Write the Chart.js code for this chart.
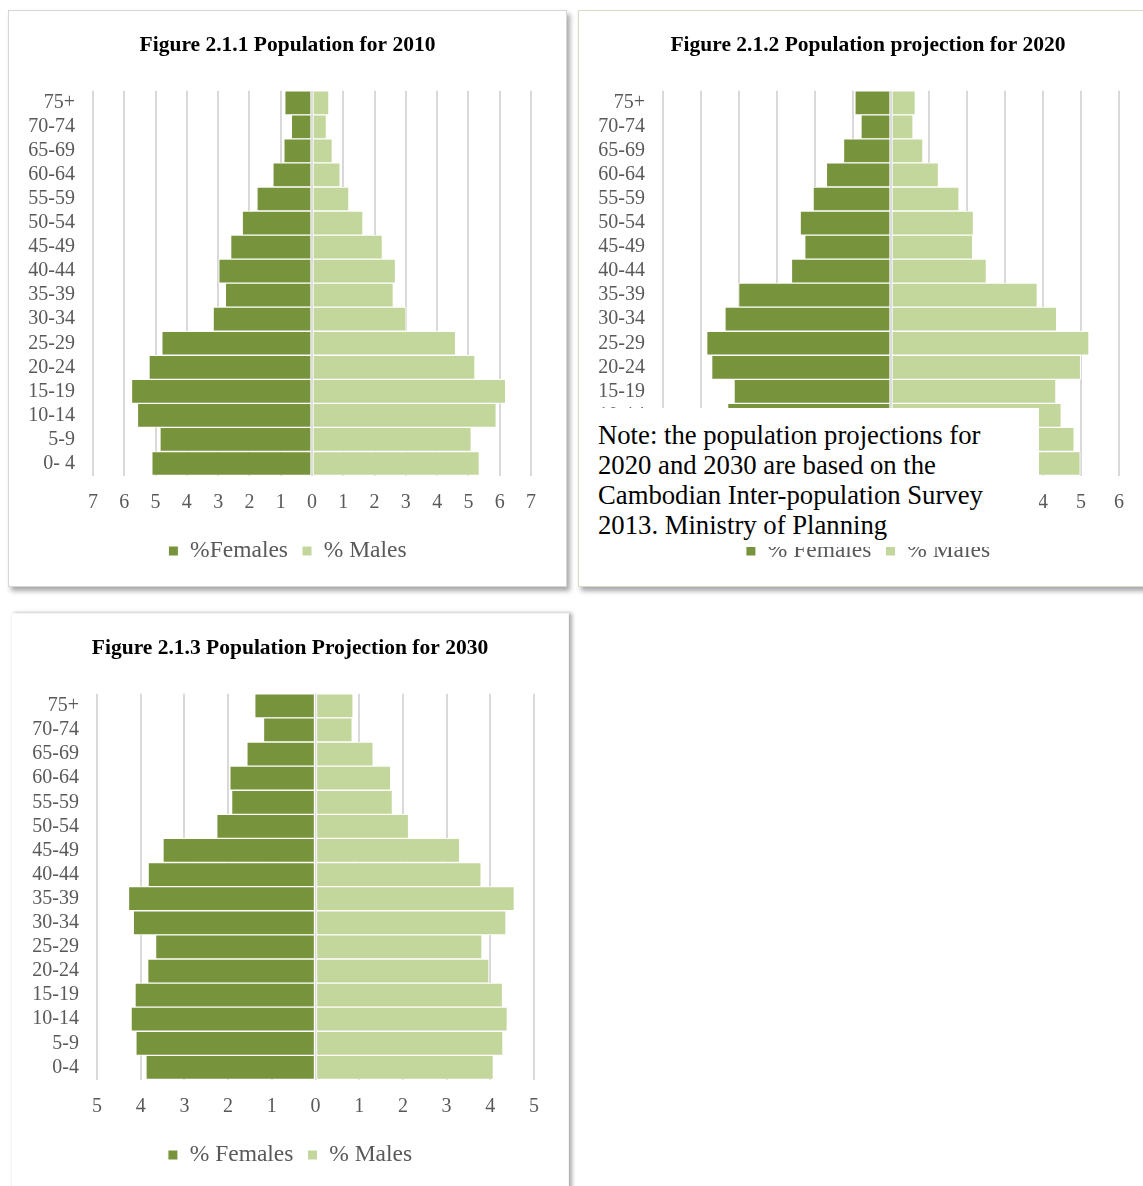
<!DOCTYPE html>
<html>
<head>
<meta charset="utf-8">
<script src="https://cdn.jsdelivr.net/npm/chart.js@4.4.1/dist/chart.umd.min.js"></script>
<style>
  html, body { margin: 0; padding: 0; background: #ffffff; }
  body { width: 1143px; height: 1186px; position: relative; overflow: hidden; }
  .panel { position: absolute; background: #ffffff; box-sizing: content-box; }
  .panel canvas { position: absolute; left: 0; top: 0; }
  #p1 { left: 8px; top: 10px; width: 557px; height: 575px; border: 1px solid #d6d6d6;
        box-shadow: 3px 4px 5px rgba(0,0,0,0.35); }
  #p2 { left: 578px; top: 10px; width: 578px; height: 575px; border: 1px solid #dcdac6;
        box-shadow: 3px 4px 5px rgba(0,0,0,0.35); }
  #p3 { left: 11px; top: 613px; width: 556px; height: 600px; border: 1px solid #f5f5f5;
        box-shadow: 3px 0px 4px rgba(0,0,0,0.33); }
  #note { position: absolute; left: 580px; top: 408px; width: 459px; height: 139px;
          background: #ffffff; z-index: 5; box-sizing: border-box; padding: 12px 0 0 18px;
          font-family: "Liberation Serif", "Times New Roman", serif; font-size: 26.7px;
          line-height: 30px; color: #000000; white-space: nowrap; }
</style>
</head>
<body>
<div class="panel" id="p1"><canvas id="c1" width="557" height="575"></canvas></div>
<div class="panel" id="p2"><canvas id="c2" width="578" height="575"></canvas></div>
<div class="panel" id="p3"><canvas id="c3" width="556" height="600"></canvas></div>
<div id="note">Note: the population projections for<br>2020 and 2030 are based on the<br>Cambodian Inter-population Survey<br>2013. Ministry of Planning</div>

<script>
// Age groups, oldest at the top of each pyramid
const ageGroups2010 = ['75+','70-74','65-69','60-64','55-59','50-54','45-49','40-44','35-39','30-34','25-29','20-24','15-19','10-14','5-9','0- 4'];
const ageGroups2020 = ['75+','70-74','65-69','60-64','55-59','50-54','45-49','40-44','35-39','30-34','25-29','20-24','15-19','10-14','5-9','0-4'];
const ageGroups2030 = ['75+','70-74','65-69','60-64','55-59','50-54','45-49','40-44','35-39','30-34','25-29','20-24','15-19','10-14','5-9','0-4'];

// Share of the population (%) in each age group
const females2010 = [0.87, 0.66, 0.90, 1.25, 1.76, 2.23, 2.60, 2.98, 2.77, 3.16, 4.80, 5.21, 5.77, 5.58, 4.86, 5.12];
const males2010   = [0.54, 0.46, 0.65, 0.90, 1.18, 1.63, 2.25, 2.67, 2.60, 3.01, 4.59, 5.21, 6.19, 5.89, 5.09, 5.35];

const females2020 = [0.95, 0.79, 1.25, 1.70, 2.05, 2.39, 2.27, 2.62, 4.01, 4.37, 4.85, 4.72, 4.13, 4.30, 4.60, 4.75];
const males2020   = [0.64, 0.58, 0.84, 1.25, 1.79, 2.17, 2.15, 2.51, 3.85, 4.36, 5.21, 4.99, 4.34, 4.48, 4.82, 4.98];

const females2030 = [1.39, 1.19, 1.57, 1.96, 1.92, 2.26, 3.49, 3.83, 4.28, 4.17, 3.66, 3.84, 4.13, 4.22, 4.11, 3.88];
const males2030   = [0.86, 0.84, 1.32, 1.72, 1.76, 2.13, 3.30, 3.79, 4.55, 4.36, 3.81, 3.97, 4.28, 4.39, 4.29, 4.07];

const SERIF = '"Liberation Serif", "Times New Roman", serif';
const FEMALE_COLOR = '#77933c';
const MALE_COLOR = '#c3d69b';
const TEXT_GRAY = '#595959';

function pyramid(canvasId, opts) {
  return new Chart(document.getElementById(canvasId), {
    type: 'bar',
    data: {
      labels: opts.labels,
      datasets: [
        { label: opts.femaleLabel, data: opts.females.map(v => -v), backgroundColor: FEMALE_COLOR,
          borderColor: '#ffffff', borderWidth: 1, borderSkipped: false,
          barPercentage: 1, categoryPercentage: 1 },
        { label: opts.maleLabel, data: opts.males, backgroundColor: MALE_COLOR,
          borderColor: '#ffffff', borderWidth: 1, borderSkipped: false,
          barPercentage: 1, categoryPercentage: 1 }
      ]
    },
    options: {
      indexAxis: 'y',
      responsive: false,
      animation: false,
      layout: { padding: { left: 0, right: 0, top: 0, bottom: opts.bottomPad } },
      plugins: {
        tooltip: { enabled: false },
        title: {
          display: true, text: opts.title, color: '#000000',
          font: { family: SERIF, size: 21.5, weight: 'bold' },
          padding: { top: opts.titleTop, bottom: opts.titleBottom }
        },
        legend: {
          position: 'bottom',
          labels: { boxWidth: 10, boxHeight: 10, padding: 14, color: TEXT_GRAY,
                    font: { family: SERIF, size: 23.5 } }
        }
      },
      scales: {
        x: {
          stacked: true, min: -opts.max, max: opts.max,
          ticks: { stepSize: 1, autoSkip: false, maxRotation: 0, padding: 15,
                   color: TEXT_GRAY, font: { family: SERIF, size: 20 },
                   callback: v => Math.abs(v) },
          grid: { color: '#d9d9d9', lineWidth: 2, drawTicks: false },
          border: { display: false },
          afterFit: s => { s.height = opts.xAxisHeight; }
        },
        y: {
          stacked: true,
          ticks: { autoSkip: false, padding: 18, color: TEXT_GRAY, font: { family: SERIF, size: 20 } },
          grid: { display: false, drawTicks: false },
          border: { display: false },
          afterFit: s => { s.width = opts.plotLeft; }
        },
        // empty right-hand margin axis keeping the plot clear of the panel edge
        yMargin: {
          type: 'category', position: 'right',
          ticks: { display: false }, grid: { display: false, drawTicks: false },
          border: { display: false },
          afterFit: s => { s.width = opts.rightGap; }
        }
      }
    }
  });
}

pyramid('c1', { labels: ageGroups2010, females: females2010, males: males2010, max: 7,
  title: 'Figure 2.1.1 Population for 2010', femaleLabel: '%Females', maleLabel: '% Males',
  plotLeft: 84, rightGap: 35, titleTop: 22, titleBottom: 32, xAxisHeight: 49.75, bottomPad: 13.25 });

pyramid('c2', { labels: ageGroups2020, females: females2020, males: males2020, max: 6,
  title: 'Figure 2.1.2 Population projection for 2020', femaleLabel: '% Females', maleLabel: '% Males',
  plotLeft: 84, rightGap: 38, titleTop: 22, titleBottom: 32, xAxisHeight: 49.75, bottomPad: 13.25 });

pyramid('c3', { labels: ageGroups2030, females: females2030, males: males2030, max: 5,
  title: 'Figure 2.1.3 Population Projection for 2030', femaleLabel: '% Females', maleLabel: '% Males',
  plotLeft: 85, rightGap: 34, titleTop: 22, titleBottom: 32, xAxisHeight: 49.75, bottomPad: 37.25 });
</script>
</body>
</html>
